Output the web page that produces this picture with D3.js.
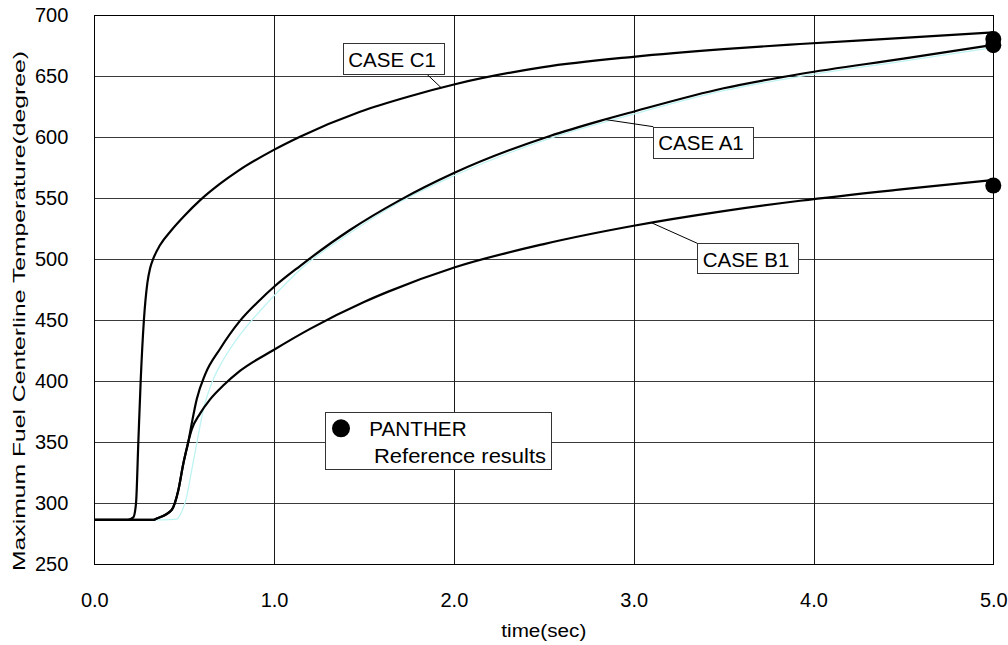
<!DOCTYPE html>
<html>
<head>
<meta charset="utf-8">
<script src="https://cdn.jsdelivr.net/npm/d3@7"></script>
<style>
  html, body { margin: 0; padding: 0; background: #fff; }
  svg { display: block; font-family: Arial, "Liberation Sans", sans-serif; }
</style>
</head>
<body>
<svg id="chart" width="1008" height="645"></svg>
<script>
// ---------------- DATA ----------------
const xTicks = [0, 1, 2, 3, 4, 5];
const yTicks = [250, 300, 350, 400, 450, 500, 550, 600, 650, 700];

const caseC1Time  = [0, 0.187, 0.217, 0.232, 0.245, 0.258, 0.276, 0.295, 0.31, 0.328, 0.365, 0.43, 0.5, 0.589, 0.7, 0.8, 0.996, 1.144, 1.478, 1.75, 2.006, 2.497, 2.998, 3.5, 3.925, 4.5, 5.0];
const caseC1Value = [286, 286, 288, 299.5, 350, 400, 450, 480, 492, 500, 511, 523.5, 535, 548, 561.5, 572, 589, 600, 620.5, 633, 643, 657, 665.5, 671.8, 676, 681, 685.5];

const caseA1Time  = [0, 0.33, 0.347, 0.43, 0.467, 0.495, 0.523, 0.542, 0.57, 0.616, 0.699, 0.81, 0.92, 1.0, 1.144, 1.422, 1.7, 1.997, 2.534, 2.813, 2.998, 3.5, 3.925, 4.5, 5.0];
const caseA1Value = [286, 286, 287, 294, 310, 332, 350, 365, 385, 405, 426, 449, 466, 477, 494, 523.5, 548, 570, 600.6, 613, 620.5, 639.7, 651.4, 664, 675.2];

const caseB1Time  = [0, 0.33, 0.347, 0.43, 0.467, 0.495, 0.523, 0.542, 0.588, 0.643, 0.717, 0.81, 0.995, 1.2, 1.5, 1.635, 2.006, 2.5, 3.0, 3.5, 3.925, 4.5, 5.0];
const caseB1Value = [286, 286, 287, 294, 310, 332, 350, 360, 373, 384.5, 396, 408, 425, 442.5, 464.5, 473, 493, 512, 527, 539, 547.5, 557, 564.5];

// light (cyan) comparison curve running alongside CASE A1
const refA1Time  = [0, 0.38, 0.458, 0.486, 0.514, 0.542, 0.57, 0.606, 0.653, 0.717, 0.81, 0.977, 1.144, 1.422, 1.7, 2.0, 2.534, 3.0, 3.5, 3.925, 4.5, 5.0];
const refA1Value = [286, 286, 286.5, 292.6, 305, 327, 348.7, 376, 398, 417, 437.5, 466, 491, 521, 546.5, 568, 598.6, 618.5, 637.7, 649.4, 662, 673];

// PANTHER reference results (points at t = 5 s)
const pantherTime  = [5.0, 5.0, 5.0];
const pantherValue = [680, 675, 560];

const caseLabels = ["CASE C1", "CASE A1", "CASE B1"];
const legendLabels = ["PANTHER", "Reference results"];
const xTitle = "time(sec)";
const yTitle = "Maximum Fuel Centerline Temperature(degree)";

// ---------------- LAYOUT ----------------
const plot = { left: 94.3, right: 993.3, top: 14.7, bottom: 563.7 };

const svg = d3.select("#chart");
const x = d3.scaleLinear().domain([0, 5]).range([plot.left, plot.right]);
const y = d3.scaleLinear().domain([250, 700]).range([plot.bottom, plot.top]);

// grid
const grid = svg.append("g").attr("shape-rendering", "crispEdges");
grid.selectAll("line.h").data(yTicks).join("line")
  .attr("class", "h")
  .attr("x1", plot.left).attr("x2", plot.right)
  .attr("y1", d => Math.round(y(d)) + 0.5).attr("y2", d => Math.round(y(d)) + 0.5)
  .attr("stroke", "#3a3a3a").attr("stroke-width", 1);
grid.selectAll("line.v").data(xTicks).join("line")
  .attr("class", "v")
  .attr("y1", plot.top).attr("y2", plot.bottom)
  .attr("x1", d => Math.round(x(d)) + 0.5).attr("x2", d => Math.round(x(d)) + 0.5)
  .attr("stroke", "#1a1a1a").attr("stroke-width", 1);

// border
svg.append("rect")
  .attr("x", Math.round(plot.left) + 0.5).attr("y", Math.round(plot.top) + 0.5)
  .attr("width", Math.round(plot.right) - Math.round(plot.left))
  .attr("height", Math.round(plot.bottom) - Math.round(plot.top))
  .attr("fill", "none").attr("stroke", "#000").attr("stroke-width", 1)
  .attr("shape-rendering", "crispEdges");

// axes (labels only)
const yAxis = d3.axisLeft(y).tickValues(yTicks).tickSize(0).tickPadding(26).tickFormat(d3.format("d"));
const gy = svg.append("g").attr("transform", `translate(${plot.left},0)`).call(yAxis);
gy.select(".domain").remove();
gy.selectAll("text").attr("font-size", 20).attr("font-family", "Arial, 'Liberation Sans', sans-serif").attr("fill", "#000").attr("dy", "0.36em");

const xAxis = d3.axisBottom(x).tickValues(xTicks).tickSize(0).tickPadding(29).tickFormat(d3.format(".1f"));
const gx = svg.append("g").attr("transform", `translate(0,${plot.bottom})`).call(xAxis);
gx.select(".domain").remove();
gx.selectAll("text").attr("font-size", 20).attr("font-family", "Arial, 'Liberation Sans', sans-serif").attr("fill", "#000");

// axis titles
svg.append("text")
  .attr("x", (plot.left + plot.right) / 2).attr("y", 637)
  .attr("text-anchor", "middle").attr("font-size", 18)
  .attr("textLength", 85).attr("lengthAdjust", "spacingAndGlyphs")
  .text(xTitle);

svg.append("text")
  .attr("transform", "translate(25,311) rotate(-90)")
  .attr("text-anchor", "middle").attr("font-size", 17)
  .attr("textLength", 520).attr("lengthAdjust", "spacingAndGlyphs")
  .text(yTitle);

// lines
const lineGen = d3.line().x(d => x(d[0])).y(d => y(d[1])).curve(d3.curveMonotoneX);
const zip = (a, b) => a.map((t, i) => [t, b[i]]);

svg.append("path").datum(zip(refA1Time, refA1Value))
  .attr("d", lineGen).attr("fill", "none").attr("stroke", "#bff3f3").attr("stroke-width", 1.3);

const series = [
  { name: caseLabels[0], t: caseC1Time, v: caseC1Value },
  { name: caseLabels[1], t: caseA1Time, v: caseA1Value },
  { name: caseLabels[2], t: caseB1Time, v: caseB1Value }
];
series.forEach(s => {
  svg.append("path").datum(zip(s.t, s.v))
    .attr("d", lineGen).attr("fill", "none").attr("stroke", "#000")
    .attr("stroke-width", 2.2).attr("stroke-linejoin", "round");
});

// PANTHER points
svg.selectAll("circle.panther").data(zip(pantherTime, pantherValue)).join("circle")
  .attr("class", "panther")
  .attr("cx", d => x(d[0])).attr("cy", d => y(d[1])).attr("r", 8).attr("fill", "#000");

// value on a series at time t (linear interpolation of the data points)
function valueAt(s, t) {
  const i = d3.bisectRight(s.t, t);
  const i0 = Math.max(0, i - 1), i1 = Math.min(s.t.length - 1, i);
  if (i0 === i1) return s.v[i0];
  const f = (t - s.t[i0]) / (s.t[i1] - s.t[i0]);
  return s.v[i0] + f * (s.v[i1] - s.v[i0]);
}

// case labels with leader lines
const labelLayout = [
  { box: [342.7, 43.3, 101.3, 30.7], textX: 348.3, textY: 67.3, from: [426.7, 74], toT: 1.93, series: 0 },
  { box: [653.3, 126.7, 100, 30.6], textX: 658.3, textY: 150, from: [653.3, 126.7], toT: 2.84, series: 1 },
  { box: [697.3, 243.3, 101, 30], textX: 702.7, textY: 266.7, from: [697.3, 243.3], toT: 3.1, series: 2 }
];
labelLayout.forEach(L => {
  const s = series[L.series];
  svg.append("line")
    .attr("x1", L.from[0]).attr("y1", L.from[1])
    .attr("x2", x(L.toT)).attr("y2", y(valueAt(s, L.toT)))
    .attr("stroke", "#000").attr("stroke-width", 1);
  svg.append("rect")
    .attr("x", Math.round(L.box[0]) + 0.5).attr("y", Math.round(L.box[1]) + 0.5)
    .attr("width", Math.round(L.box[2])).attr("height", Math.round(L.box[3]))
    .attr("fill", "#fff").attr("stroke", "#333").attr("stroke-width", 1)
    .attr("shape-rendering", "crispEdges");
  svg.append("text").attr("x", L.textX).attr("y", L.textY)
    .attr("font-size", 20.5).attr("fill", "#000").text(s.name);
});

// legend
const lg = svg.append("g");
lg.append("rect").attr("x", 325.5).attr("y", 412.5).attr("width", 226).attr("height", 57)
  .attr("fill", "#fff").attr("stroke", "#333").attr("stroke-width", 1).attr("shape-rendering", "crispEdges");
lg.append("circle").attr("cx", 341).attr("cy", 428.3).attr("r", 9).attr("fill", "#000");
lg.append("text").attr("x", 369.3).attr("y", 436).attr("font-size", 21).attr("fill", "#000")
  .attr("textLength", 97.3).attr("lengthAdjust", "spacingAndGlyphs").text(legendLabels[0]);
lg.append("text").attr("x", 374).attr("y", 463).attr("font-size", 20).attr("fill", "#000")
  .attr("textLength", 172).attr("lengthAdjust", "spacingAndGlyphs").text(legendLabels[1]);
</script>
</body>
</html>
